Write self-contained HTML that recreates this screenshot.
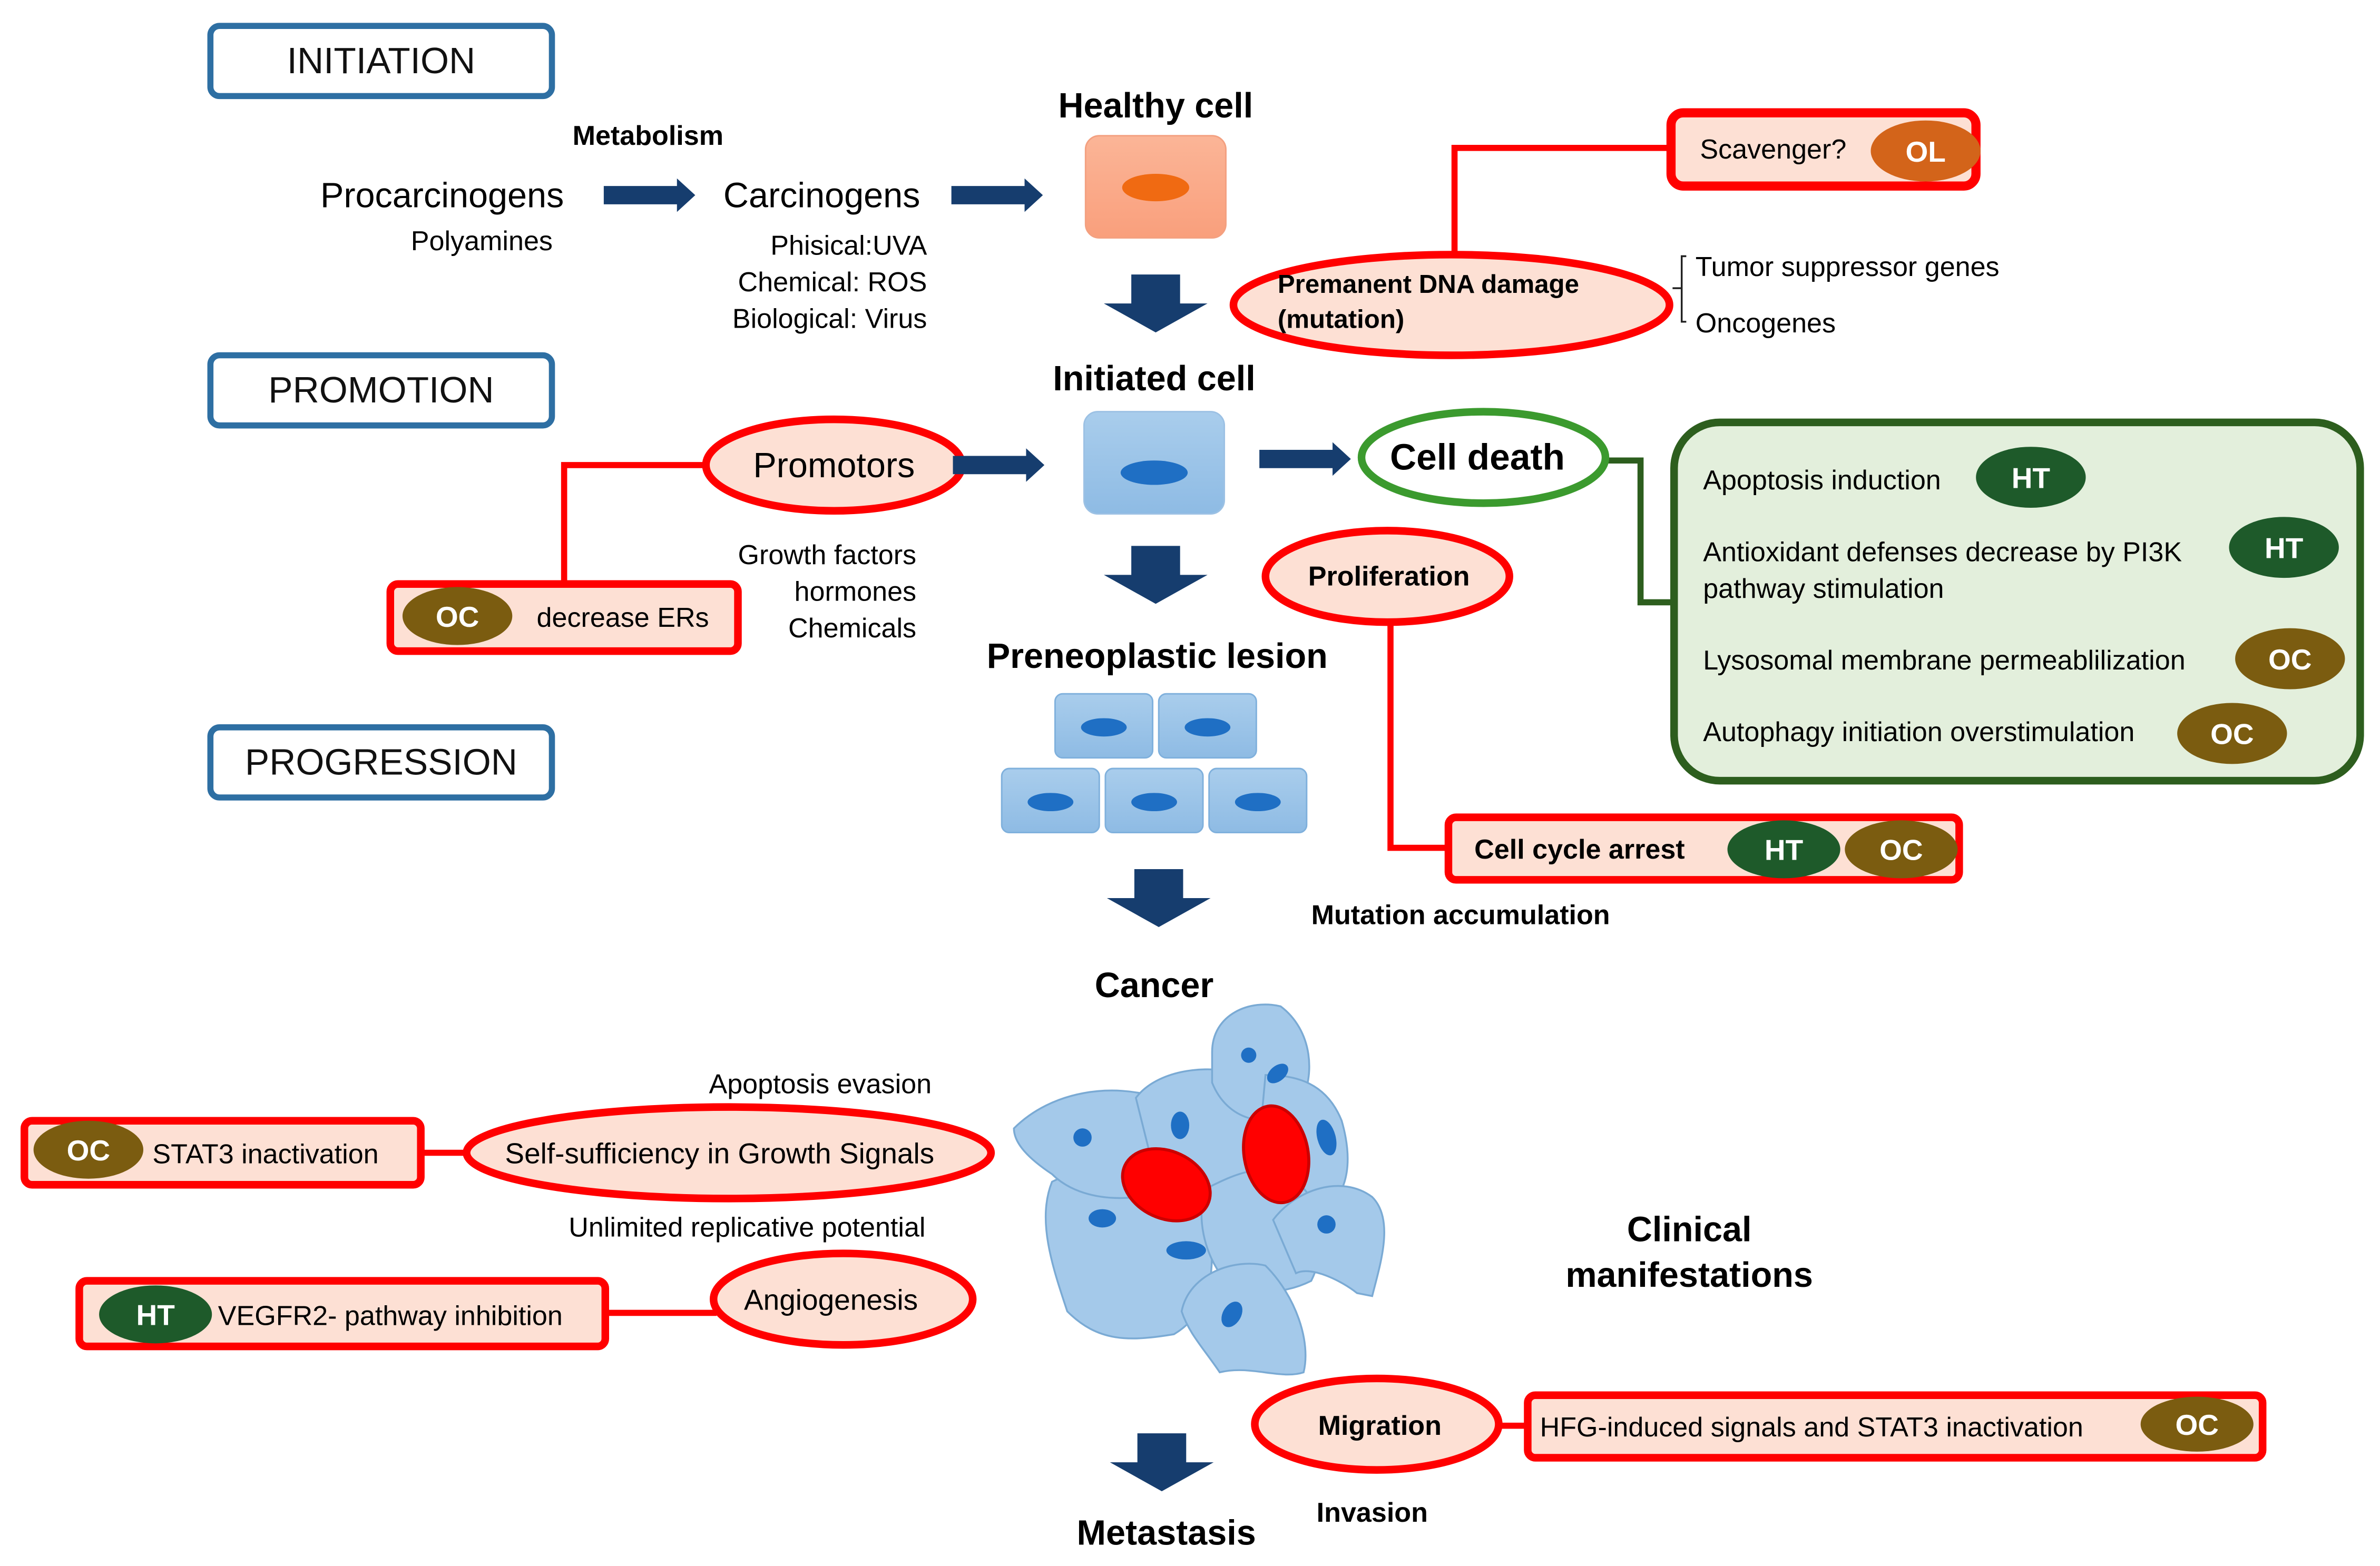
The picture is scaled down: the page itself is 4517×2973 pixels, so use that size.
<!DOCTYPE html>
<html><head><meta charset="utf-8"><style>html,body{margin:0;padding:0;background:#fff}svg{display:block}</style></head>
<body>
<svg xmlns="http://www.w3.org/2000/svg" width="4517" height="2973" viewBox="0 0 1561 1027" preserveAspectRatio="none" font-family="Liberation Sans, Arial, sans-serif">
<defs>
<linearGradient id="gb" x1="0" y1="0" x2="0" y2="1"><stop offset="0" stop-color="#a9cdec"/><stop offset="1" stop-color="#8ebbe4"/></linearGradient>
<linearGradient id="go" x1="0" y1="0" x2="0" y2="1"><stop offset="0" stop-color="#fbb597"/><stop offset="1" stop-color="#f99f7c"/></linearGradient>
<g id="da"><path d="M-16,0 H16 V19 H34 L0,38 L-34,19 H-16 Z" fill="#163d6e"/></g>
<g id="ra"><path d="M0,-6 H48 V-11 L60,0 L48,11 V6 H0 Z" fill="#163d6e"/></g>
</defs>

<!-- stage boxes -->
<g fill="#fff" stroke="#2e6fa3" stroke-width="4">
<rect x="138" y="17" width="224" height="46" rx="6"/>
<rect x="138" y="233" width="224" height="46" rx="6"/>
<rect x="138" y="477" width="224" height="46" rx="6"/>
</g>
<g font-size="24" text-anchor="middle" fill="#111">
<text x="250" y="48">INITIATION</text>
<text x="250" y="264">PROMOTION</text>
<text x="250" y="508">PROGRESSION</text>
</g>

<!-- initiation row -->
<text x="425" y="95" font-size="18" font-weight="bold" text-anchor="middle">Metabolism</text>
<text x="290" y="136" font-size="23" text-anchor="middle">Procarcinogens</text>
<text x="316" y="164" font-size="18" text-anchor="middle">Polyamines</text>
<use href="#ra" x="396" y="128"/>
<text x="539" y="136" font-size="23" text-anchor="middle">Carcinogens</text>
<use href="#ra" x="624" y="128"/>
<g font-size="18" text-anchor="end">
<text x="608" y="167">Phisical:UVA</text>
<text x="608" y="191">Chemical: ROS</text>
<text x="608" y="215">Biological: Virus</text>
</g>

<text x="758" y="77" font-size="23" font-weight="bold" text-anchor="middle">Healthy cell</text>
<rect x="712" y="89" width="92" height="67" rx="9" fill="url(#go)" stroke="#f3a080"/>
<ellipse cx="758" cy="123" rx="22" ry="9" fill="#f06a12"/>
<use href="#da" x="758" y="180"/>

<!-- DNA damage -->
<path d="M954,167 V97 H1096" fill="none" stroke="#f00" stroke-width="4"/>
<ellipse cx="952" cy="200" rx="143" ry="33" fill="#fde0d4" stroke="#f00" stroke-width="5"/>
<text x="838" y="192" font-size="17" font-weight="bold">Premanent DNA damage</text>
<text x="838" y="215" font-size="17" font-weight="bold">(mutation)</text>
<rect x="1096" y="74" width="200" height="48" rx="8" fill="#fde0d4" stroke="#f00" stroke-width="6"/>
<text x="1115" y="104" font-size="18">Scavenger?</text>
<ellipse cx="1263" cy="99" rx="36" ry="20" fill="#d3641a"/>
<text x="1263" y="106" font-size="19" font-weight="bold" fill="#fff" text-anchor="middle">OL</text>
<path d="M1106,168 H1103 V211 H1106 M1097,189 H1103" fill="none" stroke="#222" stroke-width="1.2"/>
<text x="1112" y="181" font-size="18">Tumor suppressor genes</text>
<text x="1112" y="218" font-size="18">Oncogenes</text>

<!-- promotion -->
<text x="757" y="256" font-size="23" font-weight="bold" text-anchor="middle">Initiated cell</text>
<rect x="711" y="270" width="92" height="67" rx="9" fill="url(#gb)" stroke="#9cc1e4"/>
<ellipse cx="757" cy="310" rx="22" ry="8" fill="#1f6fc4"/>
<path d="M370,383 V305 H462" fill="none" stroke="#f00" stroke-width="4"/>
<ellipse cx="547" cy="305" rx="84" ry="30" fill="#fde0d4" stroke="#f00" stroke-width="5"/>
<text x="547" y="313" font-size="23" text-anchor="middle">Promotors</text>
<use href="#ra" x="625" y="305"/>
<use href="#ra" x="826" y="301"/>
<rect x="256" y="383" width="228" height="44" rx="5" fill="#fde0d4" stroke="#f00" stroke-width="5"/>
<ellipse cx="300" cy="404" rx="36" ry="19" fill="#7b5c10"/>
<text x="300" y="411" font-size="19" font-weight="bold" fill="#fff" text-anchor="middle">OC</text>
<text x="352" y="411" font-size="18">decrease ERs</text>
<g font-size="18" text-anchor="end">
<text x="601" y="370">Growth factors</text>
<text x="601" y="394">hormones</text>
<text x="601" y="418">Chemicals</text>
</g>

<!-- cell death -->
<path d="M1053,302 H1076 V395 H1098" fill="none" stroke="#2d5e1e" stroke-width="4"/>
<ellipse cx="973" cy="300" rx="80" ry="30" fill="#fff" stroke="#3b9a2e" stroke-width="5"/>
<text x="969" y="308" font-size="24" font-weight="bold" text-anchor="middle">Cell death</text>
<rect x="1098" y="277" width="450" height="235" rx="30" fill="#e3efdc" stroke="#2d5e1e" stroke-width="5"/>
<g font-size="18">
<text x="1117" y="321">Apoptosis induction</text>
<text x="1117" y="368">Antioxidant defenses decrease by PI3K</text>
<text x="1117" y="392">pathway stimulation</text>
<text x="1117" y="439">Lysosomal membrane permeablilization</text>
<text x="1117" y="486">Autophagy initiation overstimulation</text>
</g>
<g font-size="19" font-weight="bold" fill="#fff" text-anchor="middle">
<ellipse cx="1332" cy="313" rx="36" ry="20" fill="#1e5a2a"/><text x="1332" y="320">HT</text>
<ellipse cx="1498" cy="359" rx="36" ry="20" fill="#1e5a2a"/><text x="1498" y="366">HT</text>
<ellipse cx="1502" cy="432" rx="36" ry="20" fill="#7b5c10"/><text x="1502" y="439">OC</text>
<ellipse cx="1464" cy="481" rx="36" ry="20" fill="#7b5c10"/><text x="1464" y="488">OC</text>
</g>

<use href="#da" x="758" y="358"/>
<path d="M912,410 V556 H952" fill="none" stroke="#f00" stroke-width="4"/>
<ellipse cx="910" cy="378" rx="80" ry="30" fill="#fde0d4" stroke="#f00" stroke-width="5"/>
<text x="911" y="384" font-size="18" font-weight="bold" text-anchor="middle">Proliferation</text>
<rect x="950" y="536" width="335" height="41" rx="5" fill="#fde0d4" stroke="#f00" stroke-width="5"/>
<text x="967" y="563" font-size="18" font-weight="bold">Cell cycle arrest</text>
<g font-size="19" font-weight="bold" fill="#fff" text-anchor="middle">
<ellipse cx="1170" cy="557" rx="37" ry="19" fill="#1e5a2a"/><text x="1170" y="564">HT</text>
<ellipse cx="1247" cy="557" rx="37" ry="19" fill="#7b5c10"/><text x="1247" y="564">OC</text>
</g>

<!-- preneoplastic -->
<text x="759" y="438" font-size="23" font-weight="bold" text-anchor="middle">Preneoplastic lesion</text>
<g fill="url(#gb)" stroke="#7fb0dc">
<rect x="692" y="455" width="64" height="42" rx="5"/>
<rect x="760" y="455" width="64" height="42" rx="5"/>
<rect x="657" y="504" width="64" height="42" rx="5"/>
<rect x="725" y="504" width="64" height="42" rx="5"/>
<rect x="793" y="504" width="64" height="42" rx="5"/>
</g>
<g fill="#1f6fc4">
<ellipse cx="724" cy="477" rx="15" ry="6"/><ellipse cx="792" cy="477" rx="15" ry="6"/>
<ellipse cx="689" cy="526" rx="15" ry="6"/><ellipse cx="757" cy="526" rx="15" ry="6"/><ellipse cx="825" cy="526" rx="15" ry="6"/>
</g>
<use href="#da" x="760" y="570"/>
<text x="958" y="606" font-size="18" font-weight="bold" text-anchor="middle">Mutation accumulation</text>

<!-- cancer -->
<text x="757" y="654" font-size="23" font-weight="bold" text-anchor="middle">Cancer</text>
<g fill="#a4c9ea" stroke="#7aaad4" stroke-width="1.2">
<path d="M700,860 C690,830 680,800 690,775 C720,760 760,770 790,790 C800,830 795,860 770,875 C740,880 720,880 700,860 Z"/>
<path d="M665,740 C690,715 730,710 760,720 C780,740 790,760 780,775 C750,790 710,790 690,770 C675,760 665,750 665,740 Z"/>
<path d="M745,720 C760,700 800,695 830,710 C850,730 850,760 830,780 C800,790 770,780 755,760 Z"/>
<path d="M795,690 C795,665 820,655 840,660 C860,675 865,705 850,730 C830,740 805,735 795,710 Z"/>
<path d="M830,705 C850,705 870,710 880,735 C890,770 880,790 860,800 C840,805 825,790 825,760 Z"/>
<path d="M790,780 C810,770 830,760 850,775 C870,790 870,820 860,840 C840,850 815,850 800,835 C790,820 785,800 790,780 Z"/>
<path d="M835,800 C850,780 880,770 900,785 C915,800 905,830 900,850 L890,848 C880,840 860,830 850,835 Z"/>
<path d="M775,860 C780,835 810,825 830,830 C850,850 860,880 855,900 C840,905 820,895 800,900 C790,885 780,875 775,860 Z"/>
</g>
<ellipse cx="765" cy="777" rx="30" ry="22" transform="rotate(25 765 777)" fill="#f00" stroke="#c00" stroke-width="2"/>
<ellipse cx="837" cy="757" rx="21" ry="32" transform="rotate(-10 837 757)" fill="#f00" stroke="#c00" stroke-width="2"/>
<g fill="#1f6fc4">
<circle cx="710" cy="746" r="6"/><ellipse cx="774" cy="738" rx="6" ry="9"/><ellipse cx="723" cy="799" rx="9" ry="6"/>
<ellipse cx="778" cy="820" rx="13" ry="6"/><circle cx="819" cy="692" r="5"/><ellipse cx="838" cy="704" rx="8" ry="5" transform="rotate(-40 838 704)"/>
<ellipse cx="870" cy="746" rx="6" ry="12" transform="rotate(-15 870 746)"/><circle cx="870" cy="803" r="6"/><ellipse cx="808" cy="862" rx="6" ry="9" transform="rotate(30 808 862)"/>
</g>

<!-- progression labels -->
<text x="538" y="717" font-size="18" text-anchor="middle">Apoptosis evasion</text>
<path d="M276,756 H306" stroke="#f00" stroke-width="4"/>
<ellipse cx="478" cy="756" rx="172" ry="30" fill="#fde0d4" stroke="#f00" stroke-width="5"/>
<text x="472" y="763" font-size="19" text-anchor="middle">Self-sufficiency in Growth Signals</text>
<rect x="16" y="735" width="260" height="42" rx="5" fill="#fde0d4" stroke="#f00" stroke-width="5"/>
<ellipse cx="58" cy="754" rx="36" ry="19" fill="#7b5c10"/>
<text x="58" y="761" font-size="19" font-weight="bold" fill="#fff" text-anchor="middle">OC</text>
<text x="100" y="763" font-size="18">STAT3 inactivation</text>
<text x="490" y="811" font-size="18" text-anchor="middle">Unlimited replicative potential</text>

<path d="M397,861 H470" stroke="#f00" stroke-width="4"/>
<ellipse cx="553" cy="852" rx="85" ry="30" fill="#fde0d4" stroke="#f00" stroke-width="5"/>
<text x="545" y="859" font-size="19" text-anchor="middle">Angiogenesis</text>
<rect x="52" y="840" width="345" height="43" rx="5" fill="#fde0d4" stroke="#f00" stroke-width="5"/>
<ellipse cx="102" cy="862" rx="37" ry="19" fill="#1e5a2a"/>
<text x="102" y="869" font-size="19" font-weight="bold" fill="#fff" text-anchor="middle">HT</text>
<text x="143" y="869" font-size="18">VEGFR2- pathway inhibition</text>

<text x="1108" y="814" font-size="23" font-weight="bold" text-anchor="middle">Clinical</text>
<text x="1108" y="844" font-size="23" font-weight="bold" text-anchor="middle">manifestations</text>

<path d="M983,935 H1002" stroke="#f00" stroke-width="4"/>
<ellipse cx="903" cy="934" rx="80" ry="30" fill="#fde0d4" stroke="#f00" stroke-width="5"/>
<text x="905" y="941" font-size="18" font-weight="bold" text-anchor="middle">Migration</text>
<rect x="1002" y="915" width="482" height="41" rx="5" fill="#fde0d4" stroke="#f00" stroke-width="5"/>
<text x="1010" y="942" font-size="18">HFG-induced signals and STAT3 inactivation</text>
<ellipse cx="1441" cy="934" rx="37" ry="18" fill="#7b5c10"/>
<text x="1441" y="941" font-size="19" font-weight="bold" fill="#fff" text-anchor="middle">OC</text>

<use href="#da" x="762" y="940"/>
<text x="765" y="1013" font-size="23" font-weight="bold" text-anchor="middle">Metastasis</text>
<text x="900" y="998" font-size="18" font-weight="bold" text-anchor="middle">Invasion</text>
</svg>
</body></html>
